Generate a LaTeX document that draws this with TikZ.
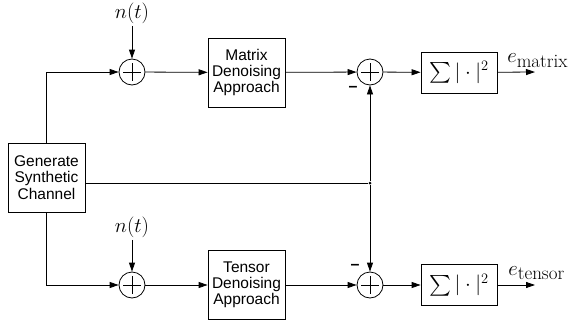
\documentclass[tikz,border=0pt]{standalone}
\usepackage{exscale}
\usepackage{fontspec}
\setsansfont{Liberation Sans}
\usetikzlibrary{arrows.meta}
\newcommand{\subtxt}[1]{\mbox{\fontsize{19}{19}\selectfont #1}}
\tikzset{
  block/.style={draw, align=center, inner sep=0pt, minimum width=77pt, minimum height=69pt,
    font=\sffamily\fontsize{15.5}{16.2}\selectfont},
  errbox/.style={draw, inner sep=0pt, minimum width=76pt, minimum height=41pt,
    font=\fontsize{20}{24}\selectfont},
  adder/.style={draw, circle, inner sep=0pt, minimum size=26pt,
    path picture={\draw ([yshift=-4pt]path picture bounding box.north) -- ([yshift=4pt]path picture bounding box.south)
      ([xshift=4pt]path picture bounding box.west) -- ([xshift=-4pt]path picture bounding box.east);}},
  sig/.style={inner sep=2pt, font=\fontsize{20}{24}\selectfont},
  minus/.style={inner sep=0pt, font=\sffamily\bfseries\fontsize{16}{16}\selectfont},
  dot/.style={circle, fill, inner sep=0pt, minimum size=3pt}
}
\begin{document}
\begin{tikzpicture}[x=1pt,y=-1pt,line width=0.8pt,>={Triangle[length=9pt,width=6pt]}]
\useasboundingbox (0,0) rectangle (574,327);
\node [block] (gen) at (46.5,177.5) {Generate\\Synthetic\\Channel};
\node [adder] (add1) at (132,72) {};
\node [adder] (add2) at (132,285) {};
\node [sig] (n1) at (132,13) {$n(t)$};
\node [sig] (n2) at (132,227) {$n(t)$};
\node [block] (mat) at (246.5,72.5) {Matrix\\Denoising\\Approach};
\node [block] (ten) at (246.5,285) {Tensor\\Denoising\\Approach};
\node [adder] (sub1) at (370,72) {};
\node [adder] (sub2) at (370,285) {};
\node [minus] (m1) at (353,89) {--};
\node [minus] (m2) at (355,267) {--};
\node [errbox] (err1) at (459,72.5) {$\sum|\cdot|^2$};
\node [errbox] (err2) at (459,285) {$\sum|\cdot|^2$};
\node [dot] (junc) at (370,183) {};
\coordinate (out1) at (535,72);
\coordinate (out2) at (535,285);
\node [sig, anchor=base west] (e1) at (505,62) {$e_{\subtxt{matrix}}$};
\node [sig, anchor=base west] (e2) at (506,275) {$e_{\subtxt{tensor}}$};
\draw [->] (gen.north) |- (add1.west);
\draw [->] (gen.south) |- (add2.west);
\draw [->] (n1) -- (add1);
\draw [->] (n2) -- (add2);
\draw [->] (add1) -- (mat);
\draw [->] (add2) -- (ten);
\draw [->] (mat) -- (sub1);
\draw [->] (ten) -- (sub2);
\draw (gen.east |- junc) -- (junc);
\draw [->] (junc) -- (sub1);
\draw [->] (junc) -- (sub2);
\draw [->] (sub1) -- (err1);
\draw [->] (sub2) -- (err2);
\draw [->] (err1) -- (out1);
\draw [->] (err2) -- (out2);
\end{tikzpicture}
\end{document}
